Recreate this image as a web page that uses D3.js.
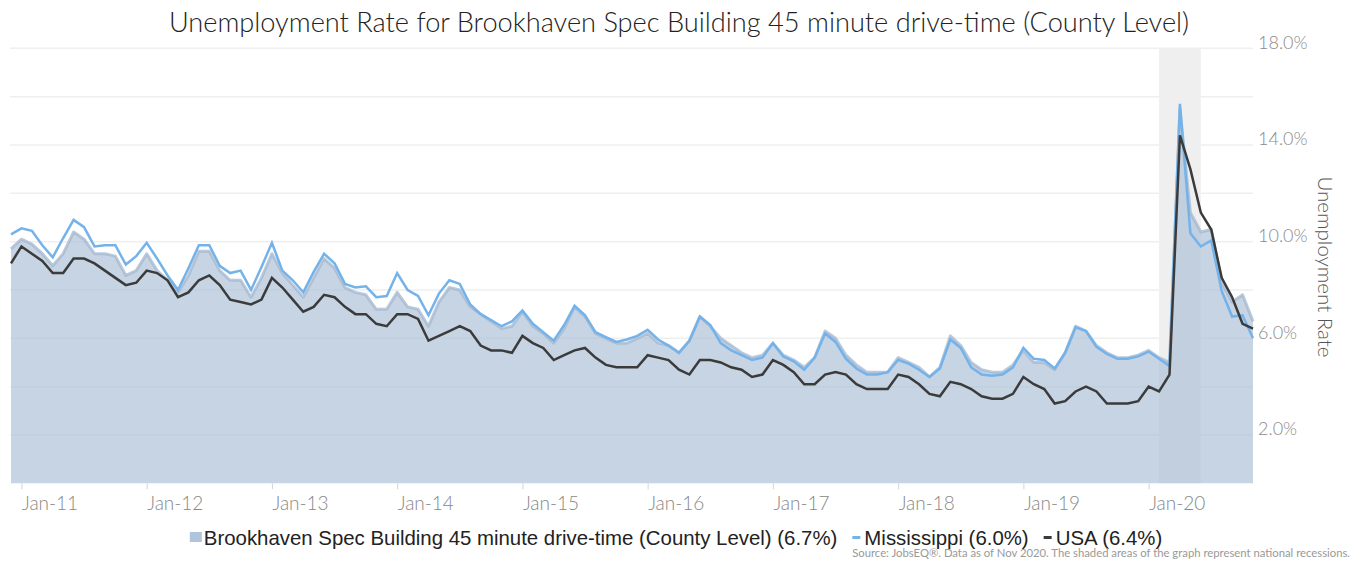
<!DOCTYPE html>
<html>
<head>
<meta charset="utf-8">
<script src="https://cdn.jsdelivr.net/npm/d3@7"></script>
<style>
  body { margin: 0; background: #fff; }
  svg { display: block; }
</style>
</head>
<body>
<div id="grafico"></div>
<script>
// Data: monthly unemployment rate, Dec 2010 .. Nov 2020
var startMonth = new Date(2010, 11, 1);
var endMonth = new Date(2020, 10, 1);

var brookhaven = [9.7,
  10.1, 9.9, 9.5, 9.0, 9.5, 10.4, 10.1, 9.5, 9.5, 9.4, 8.6, 8.8,
  9.5, 8.8, 8.4, 7.9, 8.6, 9.6, 9.6, 8.8, 8.4, 8.4, 7.7, 8.5,
  9.5, 8.7, 8.2, 7.7, 8.5, 9.3, 8.9, 8.1, 7.9, 7.8, 7.2, 7.2,
  7.9, 7.3, 7.2, 6.5, 7.5, 8.1, 8.0, 7.3, 7.0, 6.7, 6.4, 6.5,
  7.1, 6.5, 6.2, 5.8, 6.4, 7.3, 6.9, 6.2, 6.0, 5.8, 5.8, 6.0,
  6.2, 5.8, 5.7, 5.4, 5.9, 6.9, 6.5, 6.0, 5.7, 5.4, 5.2, 5.3,
  5.8, 5.3, 5.1, 4.8, 5.2, 6.3, 6.0, 5.3, 4.9, 4.6, 4.6, 4.6,
  5.2, 5.0, 4.8, 4.4, 4.8, 6.1, 5.7, 5.0, 4.7, 4.6, 4.6, 4.9,
  5.5, 5.0, 5.0, 4.7, 5.4, 6.5, 6.3, 5.7, 5.4, 5.2, 5.2, 5.3,
  5.5, 5.2, 5.0, 15.5, 11.2, 10.4, 10.5, 8.3, 7.5, 7.8, 6.7];

var mississippi = [10.3,
  10.55, 10.45, 9.85, 9.35, 10.15, 10.9, 10.6, 9.8, 9.85, 9.85, 9.05, 9.4,
  9.95, 9.3, 8.6, 8.0, 8.9, 9.85, 9.85, 9.0, 8.7, 8.8, 8.0, 8.95,
  9.95, 8.8, 8.4, 7.9, 8.75, 9.5, 9.1, 8.25, 8.1, 8.15, 7.7, 7.75,
  8.7, 8.0, 7.75, 6.95, 7.85, 8.4, 8.25, 7.4, 7.0, 6.75, 6.5, 6.7,
  7.15, 6.6, 6.25, 5.9, 6.55, 7.35, 6.95, 6.25, 6.05, 5.85, 5.95, 6.1,
  6.35, 5.95, 5.7, 5.4, 5.9, 6.9, 6.55, 5.8, 5.5, 5.3, 5.1, 5.2,
  5.8, 5.25, 5.05, 4.7, 5.2, 6.2, 5.85, 5.15, 4.75, 4.5, 4.5, 4.6,
  5.1, 4.95, 4.7, 4.4, 4.75, 5.95, 5.6, 4.8, 4.5, 4.45, 4.5, 4.8,
  5.6, 5.15, 5.1, 4.75, 5.4, 6.45, 6.3, 5.65, 5.35, 5.15, 5.15, 5.25,
  5.45, 5.15, 4.85, 15.7, 10.35, 9.8, 10.05, 7.95, 6.9, 6.95, 6.0];

var usa = [9.1,
  9.8, 9.5, 9.2, 8.7, 8.7, 9.3, 9.3, 9.1, 8.8, 8.5, 8.2, 8.3,
  8.8, 8.7, 8.4, 7.7, 7.9, 8.4, 8.6, 8.2, 7.6, 7.5, 7.4, 7.6,
  8.5, 8.1, 7.6, 7.1, 7.3, 7.8, 7.7, 7.3, 7.0, 7.0, 6.6, 6.5,
  7.0, 7.0, 6.8, 5.9, 6.1, 6.3, 6.5, 6.3, 5.7, 5.5, 5.5, 5.4,
  6.1, 5.8, 5.6, 5.1, 5.3, 5.5, 5.6, 5.2, 4.9, 4.8, 4.8, 4.8,
  5.3, 5.2, 5.1, 4.7, 4.5, 5.1, 5.1, 5.0, 4.8, 4.7, 4.4, 4.5,
  5.1, 4.9, 4.6, 4.1, 4.1, 4.5, 4.6, 4.5, 4.1, 3.9, 3.9, 3.9,
  4.5, 4.4, 4.1, 3.7, 3.6, 4.2, 4.1, 3.9, 3.6, 3.5, 3.5, 3.7,
  4.4, 4.1, 3.9, 3.3, 3.4, 3.8, 4.0, 3.8, 3.3, 3.3, 3.3, 3.4,
  4.0, 3.8, 4.5, 14.4, 13.0, 11.2, 10.5, 8.5, 7.7, 6.6, 6.4];

var recession = [new Date(2020, 1, 1), new Date(2020, 5, 1)];

var xTickLabels = ["Jan-11", "Jan-12", "Jan-13", "Jan-14", "Jan-15",
                   "Jan-16", "Jan-17", "Jan-18", "Jan-19", "Jan-20"];
var yGridTicks = [2, 4, 6, 8, 10, 12, 14, 16, 18];
var yLabelTicks = [2, 6, 10, 14, 18];

var legendItems = [
  {label: "Brookhaven Spec Building 45 minute drive-time (County Level) (6.7%)", type: "area", color: "#b0c4de"},
  {label: "Mississippi (6.0%)", type: "line", color: "#74b3ea"},
  {label: "USA (6.4%)", type: "line", color: "#3b3b3b"}
];

var W = 1359, H = 561;
var plot = {left: 11, right: 1253, top: 48.3, bottom: 483.3};

var svg = d3.select("#grafico")
  .append("svg")
    .attr("width", W)
    .attr("height", H);

// month keys for the point scale
var months = d3.timeMonth.range(startMonth, d3.timeMonth.offset(endMonth, 1));
var fmt = d3.timeFormat("%b-%y");
var keys = months.map(fmt);

var x = d3.scalePoint()
  .domain(keys)
  .range([plot.left, plot.right]);

var y = d3.scaleLinear()
  .domain([0, 18])
  .range([plot.bottom, plot.top]);

// gridlines
svg.append("g")
  .selectAll("line")
  .data(yGridTicks)
  .enter()
  .append("line")
    .attr("x1", plot.left - 1)
    .attr("x2", plot.right)
    .attr("y1", function(d) { return y(d); })
    .attr("y2", function(d) { return y(d); })
    .attr("stroke", "#efefef")
    .attr("stroke-width", 1.5);

// recession shade
svg.append("rect")
  .attr("x", x(fmt(recession[0])))
  .attr("width", x(fmt(recession[1])) - x(fmt(recession[0])))
  .attr("y", plot.top)
  .attr("height", plot.bottom - plot.top)
  .attr("fill", "#efefef");

var rows = keys.map(function(k, i) {
  return {key: k, b: brookhaven[i], m: mississippi[i], u: usa[i]};
});

// Brookhaven area
var area = d3.area()
  .x(function(d) { return x(d.key); })
  .y0(plot.bottom)
  .y1(function(d) { return y(d.b); });

svg.append("path")
  .datum(rows)
  .attr("d", area)
  .attr("fill", "#a9bdd5")
  .attr("fill-opacity", 0.65);

svg.append("path")
  .datum(rows)
  .attr("d", d3.line().x(function(d) { return x(d.key); }).y(function(d) { return y(d.b); }))
  .attr("fill", "none")
  .attr("stroke", "#a3b7cf")
  .attr("stroke-opacity", 0.75)
  .attr("stroke-width", 3)
  .attr("stroke-linejoin", "round");

// Mississippi line
svg.append("path")
  .datum(rows)
  .attr("d", d3.line().x(function(d) { return x(d.key); }).y(function(d) { return y(d.m); }))
  .attr("fill", "none")
  .attr("stroke", "#74b3ea")
  .attr("stroke-width", 2.5);

// USA line
svg.append("path")
  .datum(rows)
  .attr("d", d3.line().x(function(d) { return x(d.key); }).y(function(d) { return y(d.u); }))
  .attr("fill", "none")
  .attr("stroke", "#3b3b3b")
  .attr("stroke-width", 2.5);

// x axis (ticks at January)
var xAxis = svg.append("g")
  .attr("transform", "translate(0," + plot.bottom + ")")
  .call(d3.axisBottom(x)
    .tickValues(xTickLabels)
    .tickSize(6)
    .tickPadding(7));
xAxis.select(".domain").remove();
xAxis.selectAll(".tick line").attr("stroke", "#ccd6e2");
xAxis.selectAll(".tick text")
  .attr("text-anchor", "start")
  .attr("dy", "0.71em")
  .style("font-family", "Lato, sans-serif")
  .style("font-weight", 300)
  .style("font-size", "19px")
  .attr("fill", "#888");

// y axis on the right
var yAxis = svg.append("g")
  .attr("transform", "translate(1258,0)")
  .call(d3.axisRight(y)
    .tickValues(yLabelTicks)
    .tickSize(0)
    .tickPadding(0)
    .tickFormat(function(d) { return d.toFixed(1) + "%"; }));
yAxis.select(".domain").remove();
yAxis.selectAll(".tick text")
  .attr("dy", "0")
  .style("font-family", "Lato, sans-serif")
  .style("font-weight", 300)
  .style("font-size", "18px")
  .attr("fill", "#8a8a8a");

svg.append("text")
  .attr("transform", "translate(1318,267) rotate(90)")
  .attr("text-anchor", "middle")
  .text("Unemployment Rate")
  .style("font-family", "Lato, sans-serif")
  .style("font-weight", 300)
  .style("font-size", "20.5px")
  .attr("fill", "#555");

// title
svg.append("text")
  .attr("x", 679)
  .attr("y", 32)
  .attr("text-anchor", "middle")
  .text("Unemployment Rate for Brookhaven Spec Building 45 minute drive-time (County Level)")
  .style("font-family", "Lato, sans-serif")
  .style("font-weight", 300)
  .style("font-size", "27.2px")
  .attr("fill", "#222");

// legend
var legend = svg.append("g");
var lx = 0;
legendItems.forEach(function(d, i) {
  var g = legend.append("g").attr("transform", "translate(" + lx + ",0)");
  if (d.type === "area") {
    g.append("rect").attr("x", 0).attr("y", -5).attr("width", 12).attr("height", 10).attr("fill", d.color);
  } else {
    g.append("rect").attr("x", 0).attr("y", -1).attr("width", 8).attr("height", 3).attr("fill", d.color);
  }
  var t = g.append("text")
    .attr("x", d.type === "area" ? 14 : 12)
    .attr("y", 7.5)
    .text(d.label)
    .style("font-family", "'Liberation Sans', Arial, sans-serif")
    .style("font-size", "20.4px")
    .attr("fill", "#222");
  lx += (d.type === "area" ? 14 : 12) + t.node().getComputedTextLength() + 15;
});
var legendW = lx - 15;
legend.attr("transform", "translate(" + (676 - legendW / 2) + ",537)");

// source note
svg.append("text")
  .attr("x", 1350)
  .attr("y", 557)
  .attr("text-anchor", "end")
  .text("Source: JobsEQ®. Data as of Nov 2020. The shaded areas of the graph represent national recessions.")
  .style("font-family", "Lato, sans-serif")
  .style("font-size", "11.3px")
  .attr("fill", "#999");
</script>
</body>
</html>
